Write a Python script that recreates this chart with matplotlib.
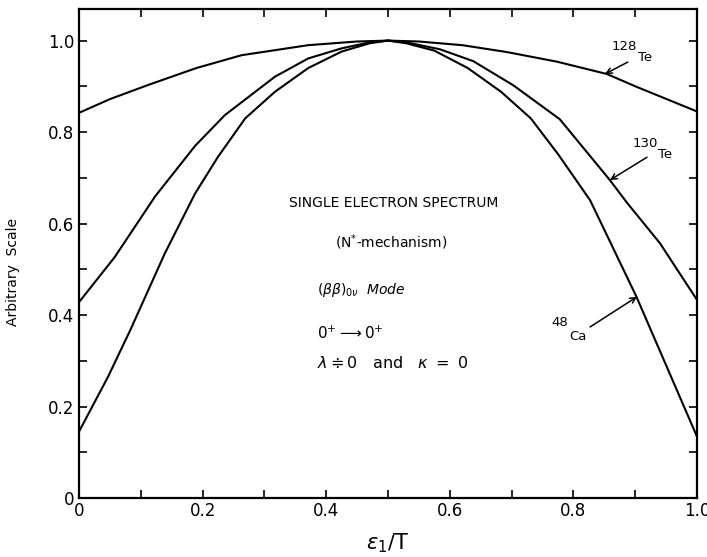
import matplotlib
matplotlib.use("Agg")
import matplotlib.pyplot as plt

# 128Te curve
x_te128 = [0.0, 0.05, 0.112, 0.19, 0.263, 0.371, 0.45, 0.5, 0.55, 0.62, 0.692, 0.773, 0.854, 0.902, 1.0]
y_te128 = [0.842, 0.872, 0.903, 0.940, 0.968, 0.990, 0.998, 1.0, 0.998, 0.990, 0.975, 0.954, 0.927, 0.899, 0.845]

# 130Te curve
x_te130 = [0.0, 0.058, 0.123, 0.188, 0.236, 0.317, 0.371, 0.425, 0.47, 0.5,
           0.53, 0.584, 0.638, 0.703, 0.778, 0.859, 0.887, 0.94, 1.0]
y_te130 = [0.428, 0.527, 0.659, 0.770, 0.837, 0.921, 0.961, 0.983, 0.996, 1.0,
           0.996, 0.981, 0.955, 0.902, 0.828, 0.695, 0.645, 0.557, 0.433]

# 48Ca curve
x_ca48 = [0.0, 0.047, 0.083, 0.139, 0.188, 0.225, 0.269, 0.317, 0.371, 0.425, 0.47, 0.5,
          0.53, 0.575, 0.629, 0.683, 0.731, 0.775, 0.827, 0.902, 1.0]
y_ca48 = [0.145, 0.265, 0.367, 0.535, 0.666, 0.746, 0.830, 0.888, 0.940, 0.976, 0.994, 1.0,
          0.994, 0.978, 0.940, 0.888, 0.830, 0.752, 0.651, 0.440, 0.134]

xticks = [0, 0.2, 0.4, 0.6, 0.8, 1.0]
xticklabels = ["0", "0.2", "0.4", "0.6", "0.8", "1.0"]
yticks = [0, 0.2, 0.4, 0.6, 0.8, 1.0]
yticklabels = ["0", "0.2", "0.4", "0.6", "0.8", "1.0"]
minor_ticks = [0.1, 0.3, 0.5, 0.7, 0.9]

fig = plt.figure(figsize=(7.07, 5.57), dpi=100)
ax = fig.add_axes([0.1117, 0.1059, 0.8742, 0.8779])

for xs, ys in ((x_te128, y_te128), (x_te130, y_te130), (x_ca48, y_ca48)):
    ax.plot(xs, ys, color="black", lw=1.5)

ax.set_xlim(0, 1.0)
ax.set_ylim(0, 1.069)
ax.set_xticks(xticks)
ax.set_xticklabels(xticklabels, fontsize=12)
ax.set_yticks(yticks)
ax.set_yticklabels(yticklabels, fontsize=12)
ax.set_xticks(minor_ticks, minor=True)
ax.set_yticks(minor_ticks, minor=True)
ax.tick_params(which="both", direction="in", top=True, right=True, length=6, width=1.2)
ax.tick_params(axis="x", pad=3)
for s in ax.spines.values():
    s.set_linewidth(1.6)

ax.set_xlabel(r"$\mathit{\epsilon}_1$/T", fontsize=15, labelpad=8)
ax.set_ylabel("Arbitrary  Scale", fontsize=10)
ax.yaxis.set_label_coords(-0.095, 0.462)

arrow_kw = dict(arrowstyle="->", color="black", lw=1.1, shrinkA=0, shrinkB=0, mutation_scale=10)
ax.annotate("", xy=(0.851, 0.927), xytext=(0.888, 0.953), arrowprops=arrow_kw)
ax.annotate("", xy=(0.859, 0.695), xytext=(0.919, 0.745), arrowprops=arrow_kw)
ax.annotate("", xy=(0.903, 0.440), xytext=(0.827, 0.374), arrowprops=arrow_kw)

ax.text(0.8625, 0.986, "128", fontsize=9.5, ha="left", va="center")
ax.text(0.9045, 0.962, "Te", fontsize=9.5, ha="left", va="center")
ax.text(0.896, 0.776, "130", fontsize=9.5, ha="left", va="center")
ax.text(0.937, 0.752, "Te", fontsize=9.5, ha="left", va="center")
ax.text(0.764, 0.383, "48", fontsize=9.5, ha="left", va="center")
ax.text(0.794, 0.353, "Ca", fontsize=9.5, ha="left", va="center")

ax.text(0.51, 0.645, "SINGLE ELECTRON SPECTRUM", fontsize=10, ha="center", va="center")
ax.text(0.506, 0.56, r"(N$^{*}$-mechanism)", fontsize=10, ha="center", va="center")
ax.text(0.385, 0.455, r"$(\beta\beta)_{0\nu}$  $\mathit{Mode}$", fontsize=10, ha="left", va="center")
ax.text(0.385, 0.361, r"0$^{+}$$\longrightarrow$0$^{+}$", fontsize=11, ha="left", va="center")
ax.text(0.385, 0.295, r"$\lambda \doteqdot 0$   and   $\kappa\ =\ 0$", fontsize=11.5, ha="left", va="center")

fig.savefig("out.png", dpi=100)
